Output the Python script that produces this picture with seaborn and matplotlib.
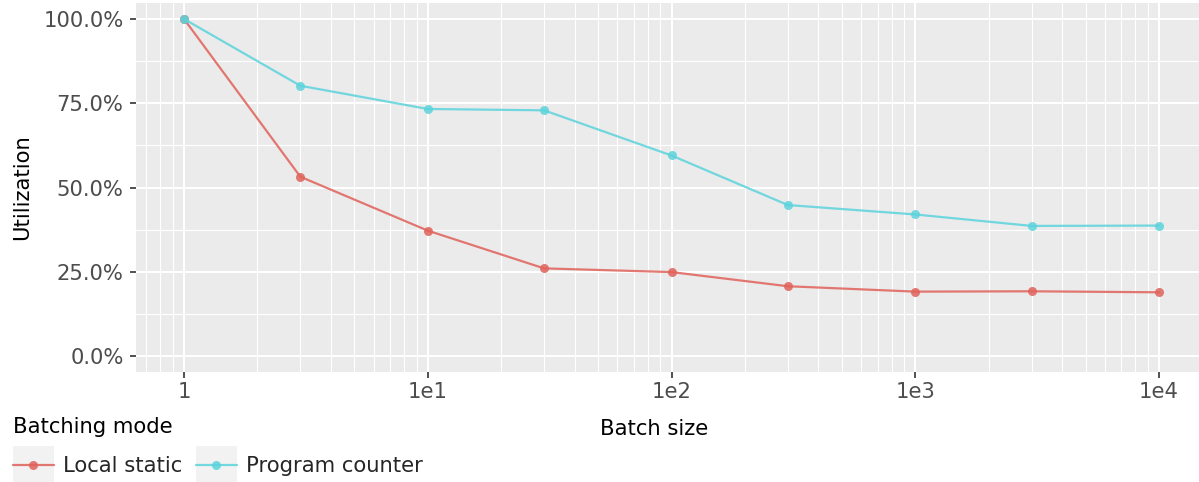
import numpy as np
import pandas as pd
import matplotlib
matplotlib.use('Agg')
import matplotlib.pyplot as plt
import matplotlib.ticker as mticker
from matplotlib.patches import Rectangle
import seaborn as sns

# values
batch_sizes = [1, 3, 10, 30, 100, 300, 1000, 3000, 10000]
local_static = [100.0, 53.2, 37.2, 26.0, 24.9, 20.7, 19.1, 19.2, 18.9]
program_counter = [100.0, 80.2, 73.3, 72.9, 59.5, 44.8, 42.0, 38.6, 38.7]
modes = ['Local static', 'Program counter']
palette = {'Local static': '#E0625A', 'Program counter': '#5CD3DB'}
x_ticks = [1, 10, 100, 1000, 10000]
x_labels = ['1', '1e1', '1e2', '1e3', '1e4']
y_ticks = [0, 25, 50, 75, 100]

df = pd.DataFrame({
    'Batch size': batch_sizes * 2,
    'Utilization': local_static + program_counter,
    'Batching mode': [modes[0]] * len(batch_sizes) + [modes[1]] * len(batch_sizes),
})

sns.set_theme(style='darkgrid', rc={
    'axes.facecolor': '#EBEBEB',
    'grid.color': 'white',
    'axes.edgecolor': '#EBEBEB',
})
plt.rcParams['font.family'] = ['DejaVu Sans']
FS = 15.2

fig = plt.figure(figsize=(11.99, 4.82), dpi=100)
ax = fig.add_axes([136 / 1199, 1 - 372 / 482, 1 - 136 / 1199, 369 / 482])

sns.lineplot(data=df, x='Batch size', y='Utilization', hue='Batching mode',
             hue_order=modes, palette=palette, marker='o', markersize=6.5,
             markeredgewidth=0, linewidth=1.6, ax=ax, legend=False)
for ln in ax.lines:
    ln.set_alpha(0.85)

ax.set_xscale('log')
ax.set_xlim(10 ** -0.197, 10 ** 4.164)
ax.set_ylim(-4.75, 104.75)
ax.set_xticks(x_ticks)
ax.set_xticklabels(x_labels)
ax.xaxis.set_minor_locator(mticker.LogLocator(base=10, subs=np.arange(2, 10)))
ax.xaxis.set_minor_formatter(mticker.NullFormatter())
ax.set_yticks(y_ticks)
ax.yaxis.set_major_formatter(mticker.PercentFormatter(xmax=100, decimals=1))
ax.yaxis.set_minor_locator(mticker.MultipleLocator(12.5))

ax.grid(which='major', color='white', linewidth=1.5)
ax.grid(which='minor', color='white', linewidth=0.8)
ax.tick_params(which='major', length=4, width=1.2, color='#333333',
               labelsize=FS, labelcolor='#4D4D4D', pad=3, bottom=True, left=True)
ax.tick_params(axis='y', which='major', pad=5)
ax.tick_params(which='minor', length=0)
for s in ax.spines.values():
    s.set_visible(False)

ax.set_xlabel('Batch size', fontsize=FS, color='black')
ax.set_ylabel('Utilization', fontsize=FS, color='black', labelpad=8)
ax.xaxis.set_label_coords((654 - 136) / 1063, -0.128)

handles = [plt.Line2D([], [], color=palette[m], marker='o', markersize=6.5,
                      markeredgewidth=0, linewidth=1.6, alpha=0.85) for m in modes]
leg = fig.legend(handles, modes, title='Batching mode', loc='lower left',
                 bbox_to_anchor=(-4 / 1199, -11 / 482), ncol=2, frameon=False,
                 fontsize=FS, title_fontsize=FS, handlelength=1.94,
                 handletextpad=0.43, columnspacing=0.65, borderpad=0.3,
                 labelspacing=0.9)
leg._legend_box.align = 'left'
leg.get_title().set_color('black')

fig.canvas.draw()
for h in leg.legend_handles:
    bb = h.get_window_extent()
    cx = (bb.x0 + bb.x1) / 2
    cy = (bb.y0 + bb.y1) / 2
    fig.patches.append(Rectangle((cx - 20.5, cy - 18.5), 41, 37,
                                 transform=None, facecolor='#F2F2F2',
                                 edgecolor='none', zorder=0))

fig.savefig('out.png', dpi=100)
